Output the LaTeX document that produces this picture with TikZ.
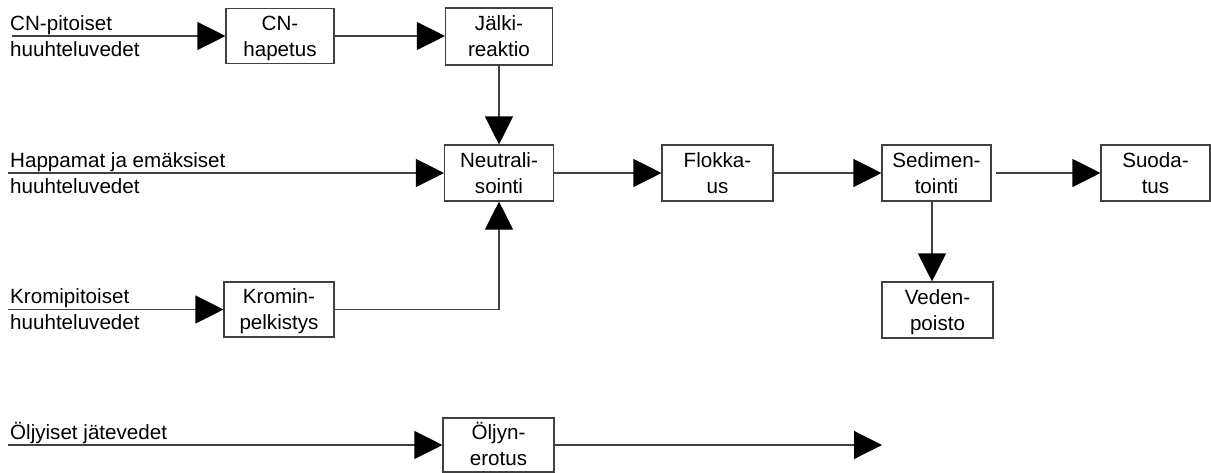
\documentclass[tikz,border=0pt]{standalone}
\usepackage{fontspec}
\setmainfont{Liberation Sans}
\usetikzlibrary{arrows.meta}
% one line of a box label with a fixed height and no depth
\newcommand\boxline[1]{\vphantom{A}\smash{#1}}

\begin{document}
\begin{tikzpicture}[x=1pt,y=-1pt,
  txt/.style={font=\fontsize{20.6}{26}\selectfont},
  wire/.style={draw=black!75, line width=1.1pt},
  flow/.style={wire, -{Triangle[length=28pt,width=28pt,black]}},
  stage/.style={txt, draw=black!75, line width=1.1pt, align=center, inner sep=0pt,
                minimum width=109pt, minimum height=56pt},
  source/.style={txt, align=left, inner sep=0pt, anchor=west}]
\useasboundingbox (0,0) rectangle (1211,472);

% process stages
\node[stage, minimum width=108pt, minimum height=55pt] (cnh) at (280,36) {\boxline{CN-}\\\boxline{hapetus}};
\node[stage, minimum width=107pt, minimum height=57pt] (jr) at (499,36.5) {\boxline{Jälki-}\\\boxline{reaktio}};
\node[stage] (neu) at (499,173) {\boxline{Neutrali-}\\\boxline{sointi}};
\node[stage, minimum width=111pt] (flo) at (717.5,173) {\boxline{Flokka-}\\\boxline{us}};
\node[stage] (sed) at (936.5,173) {\boxline{Sedimen-}\\\boxline{tointi}};
\node[stage] (suo) at (1155.5,173) {\boxline{Suoda-}\\\boxline{tus}};
\node[stage, minimum width=111pt] (ved) at (937.5,310) {\boxline{Veden-}\\\boxline{poisto}};
\node[stage, minimum width=110pt, minimum height=55pt] (kro) at (279,309.5) {\boxline{Kromin-}\\\boxline{pelkistys}};
\node[stage, minimum width=111pt, minimum height=54pt] (olj) at (498.5,445) {\boxline{Öljyn-}\\\boxline{erotus}};

% incoming waste water streams
\node[source] (cnlab) at (10,36.5) {CN-pitoiset\\huuhteluvedet};
\node[source] (hplab) at (10,173.5) {Happamat ja emäksiset\\huuhteluvedet};
\node[source] (krlab) at (10,309.5) {Kromipitoiset\\huuhteluvedet};
\node[txt, anchor=base west, inner sep=0pt] (oljlab) at (10,439) {Öljyiset jätevedet};

\coordinate (cnin) at (12,36);
\coordinate (hpin) at (8,173);
\coordinate (krin) at (8,309.5);
\coordinate (oljin) at (8,445);
\coordinate (oljout) at (882,445);

% connectors
\draw[flow] (cnin) -- (cnh.west);
\draw[flow] (cnh.east) -- (jr.west |- cnh.east);
\draw[flow] (jr.south) -- (neu.north);
\draw[flow] (hpin) -- (neu.west);
\draw[flow] (krin) -- (kro.west);
\draw[flow] (kro.east) -| (neu.south);
\draw[flow] (neu.east) -- (flo.west);
\draw[flow] (flo.east) -- (sed.west);
\draw[flow] ([xshift=4pt]sed.east) -- (suo.west);
\draw[flow] ([xshift=-4.5pt]sed.south) -- ([xshift=-4.5pt]sed.south |- ved.north);
\draw[flow] (oljin) -- (olj.west);
\draw[flow] (olj.east) -- (oljout);
\end{tikzpicture}
\end{document}
